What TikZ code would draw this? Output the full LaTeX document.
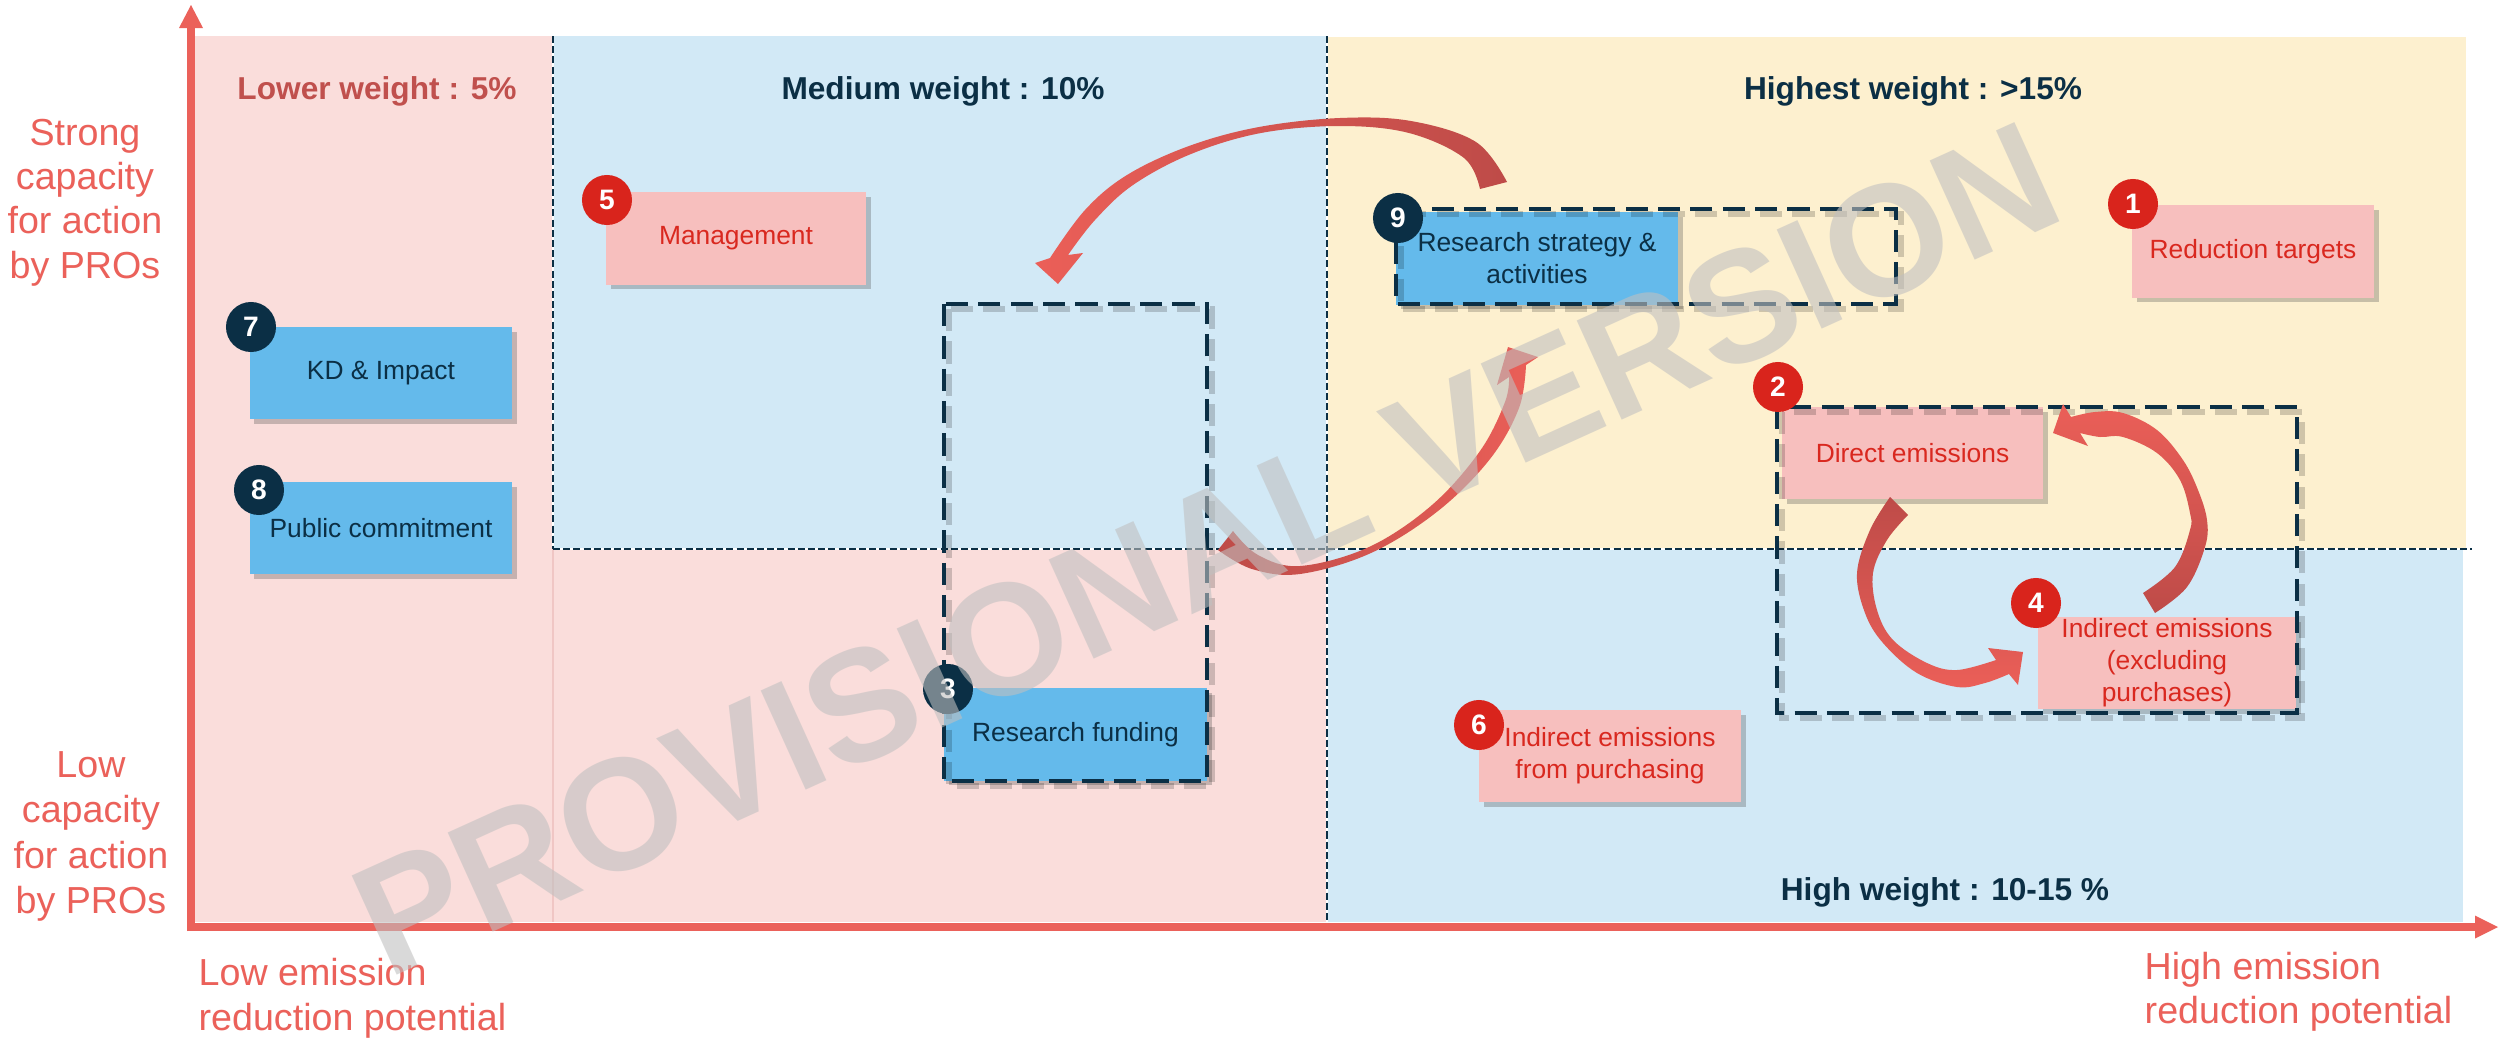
\documentclass[tikz,border=0pt]{standalone}
\usepackage{fontspec}
\setmainfont{Liberation Sans}
\usetikzlibrary{shadows}
\definecolor{axisred}{HTML}{EB615A}
\definecolor{regpink}{HTML}{FADDDB}
\definecolor{regblue}{HTML}{D2E9F6}
\definecolor{regyellow}{HTML}{FDF0CF}
\definecolor{navy}{HTML}{0B2F45}
\definecolor{boxblue}{HTML}{64BAEB}
\definecolor{boxpink}{HTML}{F7BFBE}
\definecolor{txtred}{HTML}{D9281F}
\definecolor{badgered}{HTML}{D9241C}
\definecolor{lowred}{HTML}{C0504D}
\definecolor{arrdark}{HTML}{BE4B48}
\definecolor{arrlight}{HTML}{EB5F58}
\definecolor{wmgray}{HTML}{C0C0C0}
\definecolor{faintline}{HTML}{F0C6C4}
\begin{document}
\begin{tikzpicture}[x=0.01cm,y=-0.01cm,
  sepbase/.style={white, line width=0.7pt},
  sep/.style={navy, line width=0.7pt, dash pattern=on 2pt off 0.9pt},
  groupbox/.style={draw=navy, line width=1.4pt, dash pattern=on 6.3pt off 2.9pt},
  groupshadow/.style={draw=black, opacity=0.18, line width=1.8pt, dash pattern=on 6.3pt off 2.9pt},
  card/.style={rectangle, inner sep=0pt, minimum height=0.92cm, align=center,
    font=\fontsize{7.5}{9.1}\selectfont,
    drop shadow={shadow xshift=1.3pt, shadow yshift=-1.3pt, opacity=0.3, fill=black!70}},
  bluecard/.style={card, fill=boxblue, text=navy},
  pinkcard/.style={card, fill=boxpink, text=txtred},
  badge/.style={circle, inner sep=0pt, minimum size=0.5cm, text=white,
    font=\fontsize{8}{8}\selectfont\bfseries},
  navybadge/.style={badge, fill=navy},
  redbadge/.style={badge, fill=badgered},
  axislabel/.style={text=axisred, inner sep=0pt},
  weight/.style={font=\fontsize{9}{9}\selectfont\bfseries, inner sep=0pt, anchor=base},
]
\useasboundingbox (0,0) rectangle (2499,1039);
\fill[white] (0,0) rectangle (2499,1039);

% regions
\fill[regpink] (191,36) rectangle (553,922);
\fill[regblue] (553,36) rectangle (1327,549);
\fill[regpink] (553,549) rectangle (1327,922);
\fill[regyellow] (1327,37) rectangle (2466,549);
\fill[regblue] (1327,549) rectangle (2463,922);
\draw[faintline, line width=0.3pt] (553,549) -- (553,922);

% separators
\draw[sepbase] (553,36) -- (553,549);
\draw[sep] (553,36) -- (553,549);
\draw[sepbase] (553,549) -- (2472,549);
\draw[sep] (553,549) -- (2472,549);
\draw[sepbase] (1327,36) -- (1327,922);
\draw[sep] (1327,36) -- (1327,922);

% axes
\coordinate (origin) at (191,927);
\coordinate (ytop) at (191,28);
\coordinate (xend) at (2476,927);
\draw[axisred, line width=2pt] (191,931) -- (ytop);
\fill[axisred] (179,28) -- (191,5) -- (203,28) -- cycle;
\draw[axisred, line width=2.3pt] (187.5,927) -- (xend);
\fill[axisred] (2475,915.5) -- (2498,927) -- (2475,938.5) -- cycle;

% axis labels (base anchor = last line)
\node[axislabel, align=center, anchor=base, font=\fontsize{10.7}{12.6}\selectfont] (strong) at (85,278) {Strong\\capacity\\for action\\by PROs};
\node[axislabel, align=center, anchor=base, font=\fontsize{10.7}{12.8}\selectfont] (lowcap) at (91,913) {Low\\capacity\\for action\\by PROs};
\node[axislabel, align=left, anchor=base west, font=\fontsize{10.7}{12.8}\selectfont] (lowem) at (198,1030) {Low emission\\reduction potential};
\node[axislabel, align=left, anchor=base west, font=\fontsize{10.7}{12.4}\selectfont] (highem) at (2144,1023) {High emission\\reduction potential};

% weight titles
\node[weight, text=lowred] (tlow) at (377,99) {Lower weight : 5\%};
\node[weight, text=navy] (tmed) at (943,99) {Medium weight : 10\%};
\node[weight, text=navy] (thighest) at (1913,99) {Highest weight : >15\%};
\node[weight, text=navy] (thigh) at (1945,900) {High weight : 10-15 \%};

% cards
\node[bluecard, minimum width=2.62cm] (kd) at (381,373) {KD \& Impact};
\node[bluecard, minimum width=2.62cm] (pc) at (381,528) {Public commitment};
\node[pinkcard, minimum width=2.60cm] (mgmt) at (736,238.5) {Management};
\node[bluecard, minimum width=2.63cm] (rf) at (1075.5,734.5) {Research funding};
\node[bluecard, minimum width=2.82cm] (rs) at (1537,258.5) {Research strategy \&\\activities};
\node[pinkcard, minimum width=2.42cm] (rt) at (2253,251.5) {Reduction targets};
\node[pinkcard, minimum width=2.61cm] (de) at (1912.5,453) {Direct emissions};
\node[pinkcard, minimum width=2.58cm] (ie) at (2167,663) {Indirect emissions\\(excluding\\purchases)};
\node[pinkcard, minimum width=2.62cm] (ip) at (1610,756) {Indirect emissions\\from purchasing};

% group boxes
\draw[groupshadow] (949,309) rectangle (1212,786);
\draw[groupshadow] (1401,214) rectangle (1901,309);
\draw[groupshadow] (1782,412) rectangle (2302,718);
\draw[groupbox] (944,304) rectangle (1207,781);
\draw[groupbox] (1396,209) rectangle (1896,304);
\draw[groupbox] (1777,407) rectangle (2297,713);

% curved arrows
\shade[left color=arrlight, right color=arrdark]
  plot[smooth, tension=0.6] coordinates {(1507,182) (1476,142) (1411,121) (1340,118) (1259,127) (1189,146) (1127,175) (1085,210) (1050,258)}
  -- (1035,263) -- (1058,284) -- (1083,253) -- (1068,255)
  -- plot[smooth, tension=0.6] coordinates {(1068,255) (1095,220) (1133,185) (1191,154) (1261,133) (1340,126) (1409,133) (1464,158) (1480,189)}
  -- cycle;
\shade[left color=arrdark, right color=arrlight]
  plot[smooth, tension=0.6] coordinates {(1218,550) (1252,569) (1300,574) (1371,553) (1438,511) (1490,459) (1519,408) (1526,365)}
  -- (1538,357) -- (1508,347) -- (1497,385) -- (1509,377)
  -- plot[smooth, tension=0.6] coordinates {(1509,377) (1505,402) (1480,451) (1432,505) (1369,547) (1300,566) (1258,555) (1233,531)}
  -- cycle;
\shade[top color=arrdark, bottom color=arrlight]
  plot[smooth, tension=0.6] coordinates {(1890,497) (1870,530) (1857,573) (1865,613) (1883,643) (1917,673) (1957,687) (1985,683) (2009,674)}
  -- (2018,685) -- (2023,652) -- (1988,648) -- (1996,660)
  -- plot[smooth, tension=0.6] coordinates {(1996,660) (1957,670) (1927,663) (1893,640) (1877,610) (1873,573) (1887,540) (1908,515)}
  -- cycle;
\shade[top color=arrlight, bottom color=arrdark]
  plot[smooth, tension=0.6] coordinates {(2155,613) (2187,587) (2205,547) (2207,520) (2198,490) (2183,460) (2157,430) (2123,413) (2095,412) (2071,417)}
  -- (2063,404) -- (2053,433) -- (2088,446) -- (2080,433)
  -- plot[smooth, tension=0.6] coordinates {(2080,433) (2100,437) (2123,437) (2157,453) (2180,480) (2190,513) (2190,530) (2175,567) (2143,593)}
  -- cycle;

% badges
\node[navybadge] (b7) at (251,327) {7};
\node[navybadge] (b8) at (259,490) {8};
\node[redbadge] (b5) at (607,200) {5};
\node[navybadge] (b3) at (948,689) {3};
\node[navybadge] (b9) at (1398,218) {9};
\node[redbadge] (b1) at (2133,204) {1};
\node[redbadge] (b2) at (1778,387) {2};
\node[redbadge] (b4) at (2036,603) {4};
\node[redbadge] (b6) at (1479,725) {6};

% watermark
\node[rotate=24.4, text=wmgray, text opacity=0.59, inner sep=0pt,
  font=\fontsize{45}{45}\selectfont\bfseries] (wm) at (1206,549) {PROVISIONAL VERSION};
\end{tikzpicture}
\end{document}
